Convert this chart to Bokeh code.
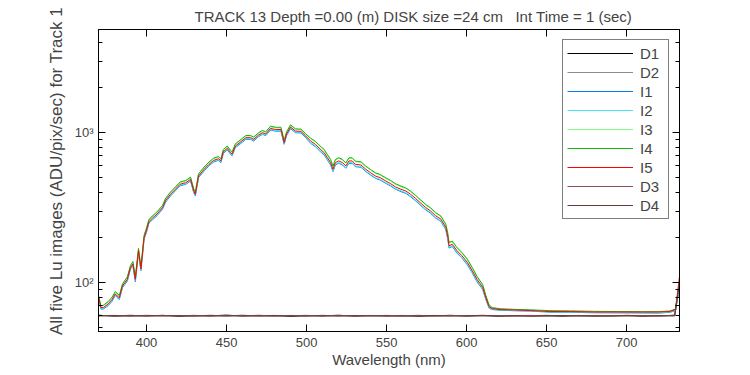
from bokeh.plotting import figure
from bokeh.models import FixedTicker, LinearAxis, LogAxis, Range1d
from bokeh.embed import file_html
from bokeh.resources import INLINE

# ---------------- data ----------------
wavelength = [370, 371.5, 373, 376, 378.5, 380.5, 383, 385, 388, 390,
              391.5, 393, 395, 396.5, 398.5, 400, 401.5, 404, 406.5, 410,
              412, 415, 418, 421, 424.5, 427.5, 429.5, 430.5, 432.5, 436,
              439, 442, 445, 446.5, 448, 450.5, 452.5, 453.5, 455.5, 459,
              462, 465, 467, 470, 472.5, 474.5, 477.5, 480.5, 484, 486,
              487.5, 490, 493, 496.5, 499.5, 502.5, 505.5, 509, 511, 513,
              515, 516.5, 518, 520, 522.5, 524.5, 526.5, 528.5, 530.5, 534,
              537, 540, 543, 546, 549.5, 552.5, 555.5, 559, 562, 565,
              568, 571, 574.5, 577.5, 580.5, 584, 587, 588.3, 589, 591,
              594, 597, 600.5, 603.5, 606.5, 610, 612, 614, 616, 621,
              630, 640, 652, 665, 680, 695, 710, 720, 727, 730.5,
              733]

I5 = [80, 68, 68, 72, 77, 84, 79, 95, 105, 126,
      133, 105, 163, 123, 200, 223, 255, 271, 286, 316,
      354, 388, 419, 453, 464, 488, 408, 388, 514, 570,
      615, 654, 671, 648, 747, 787, 736, 720, 815, 871,
      926, 926, 903, 966, 1000, 980, 1069, 1050, 1050, 858,
      980, 1091, 1026, 1020, 950, 880, 836, 768, 736, 681,
      631, 570, 631, 648, 631, 600, 648, 648, 615, 609,
      570, 541, 514, 501, 476, 457, 435, 419, 408, 388,
      365, 341, 316, 300, 280, 264, 233, 200, 176, 180,
      163, 151, 136, 120, 105, 93, 79, 69, 67, 66,
      65.5, 65, 64, 64, 63.5, 63.5, 63.5, 63.5, 64, 66,
      110]

I4 = [82, 70, 70.5, 74.5, 80, 87, 82, 98, 109, 130,
      138, 109, 169, 127, 207, 231, 264, 280, 296, 327,
      366, 402, 434, 469, 480, 505, 422, 402, 532, 590,
      637, 677, 694, 671, 773, 815, 762, 745, 844, 901,
      958, 958, 935, 1000, 1035, 1014, 1106, 1087, 1087, 888,
      1014, 1129, 1062, 1056, 983, 920, 876, 806, 773, 715,
      663, 599, 663, 680, 663, 630, 680, 680, 646, 639,
      599, 568, 540, 526, 500, 480, 457, 440, 428, 407,
      383, 358, 332, 315, 294, 277, 245, 212, 185, 189,
      171, 159, 143, 126, 110, 97, 82, 71, 68, 66.8,
      66.2, 65.7, 64.9, 64.6, 64.2, 64, 63.8, 63.9, 64.6, 66.5,
      100]

I3 = [81, 69.5, 70, 74, 79, 86, 81, 97, 108, 129,
      136, 108, 167, 126, 205, 229, 261, 278, 293, 324,
      363, 398, 429, 464, 476, 500, 418, 398, 527, 584,
      630, 670, 688, 664, 766, 807, 754, 738, 835, 893,
      949, 949, 926, 990, 1025, 1005, 1096, 1076, 1076, 879,
      1005, 1118, 1052, 1046, 974, 913, 868, 798, 765, 708,
      656, 593, 656, 674, 656, 624, 674, 674, 640, 633,
      593, 563, 535, 521, 495, 475, 452, 436, 424, 404,
      380, 355, 329, 312, 291, 275, 242, 208, 183, 187,
      170, 157, 141, 125, 109, 96, 81, 70.5, 67.5, 66.5,
      65.9, 65.3, 64.4, 64.3, 63.9, 63.8, 63.6, 63.5, 64.2, 66,
      98]

I2 = [79, 67, 67, 71, 76, 83, 78, 94, 103, 124,
      131, 103, 161, 121, 197, 220, 251, 267, 282, 311,
      349, 382, 413, 446, 457, 481, 402, 382, 506, 561,
      606, 644, 661, 638, 736, 775, 725, 709, 803, 858,
      912, 912, 889, 952, 985, 965, 1053, 1034, 1034, 845,
      965, 1075, 1011, 1005, 936, 860, 816, 749, 718, 664,
      615, 556, 615, 632, 615, 585, 632, 632, 600, 594,
      556, 527, 501, 488, 464, 446, 424, 409, 398, 378,
      356, 332, 308, 293, 273, 257, 227, 195, 172, 176,
      159, 147, 133, 117, 102.5, 91, 77.5, 68, 66.5, 65.6,
      65.1, 64.6, 63.8, 63.6, 63.1, 63, 62.9, 62.8, 63.5, 65.2,
      96]

I1 = [78, 66.5, 66.5, 70, 75, 82, 77, 92.5, 102, 123,
      130, 101, 159, 120, 195, 217, 249, 264, 279, 308,
      345, 378, 409, 442, 452, 476, 398, 378, 501, 556,
      600, 638, 654, 632, 728, 767, 718, 702, 795, 849,
      903, 903, 880, 942, 975, 956, 1042, 1024, 1024, 837,
      956, 1064, 1000, 995, 926, 850, 806, 741, 710, 657,
      609, 550, 609, 625, 609, 579, 625, 625, 593, 588,
      550, 522, 496, 483, 459, 441, 420, 404, 394, 374,
      352, 329, 305, 290, 270, 255, 225, 193, 170, 174,
      157, 146, 131, 116, 101, 90, 77, 67.5, 66, 65.3,
      64.8, 64.4, 63.4, 63.3, 62.8, 62.7, 62.6, 62.5, 63.2, 65,
      95]

dark_wavelength = [370, 380, 390, 400, 410, 420, 430, 440, 450, 460,
                   470, 480, 490, 500, 510, 520, 530, 540, 550, 560,
                   570, 580, 590, 600, 610, 620, 630, 640, 650, 660,
                   670, 680, 690, 700, 710, 720, 730, 733]

D1 = [60.5, 59.6, 60.2, 59.8, 60.4, 59.5, 60.1, 59.9, 60.6, 59.7,
      60.0, 60.3, 59.4, 60.2, 59.8, 60.5, 59.6, 60.1, 59.9, 60.3,
      59.5, 60.0, 60.4, 59.7, 60.1, 59.6, 60.2, 59.8, 60.0, 59.5,
      60.3, 59.7, 59.9, 60.2, 59.6, 60.0, 60.4, 96]
D2 = [60.0, 60.4, 59.5, 60.1, 59.7, 60.3, 59.8, 60.5, 59.6, 60.2,
      59.9, 59.5, 60.4, 59.7, 60.2, 59.8, 60.3, 59.6, 60.4, 59.7,
      60.1, 59.5, 59.9, 60.3, 59.6, 60.2, 59.8, 60.4, 59.5, 60.1,
      59.7, 60.3, 59.6, 59.9, 60.2, 59.5, 59.9, 94]
D3 = [60.3, 59.8, 60.5, 59.6, 60.2, 59.9, 60.4, 59.5, 60.1, 59.8,
      60.5, 59.7, 60.0, 60.4, 59.6, 60.1, 59.8, 60.3, 59.5, 60.0,
      60.4, 59.7, 60.2, 59.8, 60.3, 59.9, 59.6, 60.1, 60.4, 59.8,
      60.0, 59.5, 60.2, 59.8, 60.1, 59.7, 60.5, 102]
D4 = [59.8, 60.2, 59.7, 60.4, 59.9, 60.1, 59.6, 60.3, 59.8, 60.5,
      59.7, 60.1, 59.9, 59.6, 60.4, 59.7, 60.2, 59.9, 60.1, 59.6,
      59.8, 60.3, 59.7, 60.0, 60.4, 59.8, 60.1, 59.6, 59.9, 60.3,
      59.8, 60.1, 59.7, 60.4, 59.8, 60.2, 59.9, 100]

x_ticks = [400, 450, 500, 550, 600, 650, 700]
y_major_ticks = [100, 1000]
y_minor_ticks = [50, 60, 70, 80, 90, 200, 300, 400, 500, 600, 700, 800, 900,
                 2000, 3000, 4000]
y_tick_labels = {100: "10\u00b2", 1000: "10\u00b3"}

series = [
    ("D1", dark_wavelength, D1, "#000000"),
    ("D2", dark_wavelength, D2, "#8c8c8c"),
    ("I1", wavelength, I1, "#0a7ff0"),
    ("I2", wavelength, I2, "#40e6f5"),
    ("I3", wavelength, I3, "#80ff80"),
    ("I4", wavelength, I4, "#14b414"),
    ("I5", wavelength, I5, "#ff0000"),
    ("D3", dark_wavelength, D3, "#8c5050"),
    ("D4", dark_wavelength, D4, "#6e3c3c"),
]

FONT = "Liberation Sans"

p = figure(width=750, height=375, output_backend="svg", toolbar_location=None,
           x_range=Range1d(370, 733), y_range=Range1d(47.1, 4885),
           y_axis_type="log",
           min_border_left=98, min_border_right=71,
           min_border_top=28, min_border_bottom=44,
           title="TRACK 13 Depth =0.00 (m) DISK size =24 cm\u00a0\u00a0 Int Time = 1 (sec)")

p.background_fill_color = "white"
p.border_fill_color = "white"
p.outline_line_color = "black"
p.outline_line_width = 1
p.grid.visible = False

p.title.text_font = FONT
p.title.text_font_size = "15px"
p.title.text_font_style = "normal"
p.title.align = "left"
p.title.offset = 96
p.title.standoff = 10

for name, xs, ys, col in series:
    p.line(xs, ys, line_color=col, line_width=1, legend_label=name)

# bottom x axis
xa = p.xaxis[0]
xa.ticker = FixedTicker(ticks=x_ticks, minor_ticks=[])
xa.axis_label = "Wavelength (nm)"
xa.axis_label_text_font = FONT
xa.axis_label_text_font_size = "15px"
xa.axis_label_text_font_style = "normal"
xa.axis_label_standoff = 1
xa.major_label_text_font = FONT
xa.major_label_text_font_size = "13px"
xa.major_label_standoff = 6
xa.major_tick_in = 7
xa.major_tick_out = 0
xa.minor_tick_in = 0
xa.minor_tick_out = 0
xa.axis_line_color = "black"

# left y axis
ya = p.yaxis[0]
ya.ticker = FixedTicker(ticks=y_major_ticks, minor_ticks=y_minor_ticks)
ya.major_label_overrides = y_tick_labels
ya.axis_label = "\u00a0\u00a0\u00a0\u00a0All five Lu images (ADU/pix/sec) for Track 1"
ya.axis_label_text_font = FONT
ya.axis_label_text_font_size = "17px"
ya.axis_label_text_font_style = "normal"
ya.axis_label_standoff = 6
ya.major_label_text_font = FONT
ya.major_label_text_font_size = "13px"
ya.major_label_standoff = 5
ya.major_tick_in = 7
ya.major_tick_out = 0
ya.minor_tick_in = 4
ya.minor_tick_out = 0

# top and right tick-only axes (box style)
top = LinearAxis(ticker=FixedTicker(ticks=x_ticks, minor_ticks=[]),
                 major_label_text_color=None, major_label_standoff=0,
                 major_tick_in=7, major_tick_out=0,
                 minor_tick_in=0, minor_tick_out=0)
p.add_layout(top, "above")
right = LogAxis(ticker=FixedTicker(ticks=y_major_ticks, minor_ticks=y_minor_ticks),
                major_label_text_color=None, major_label_standoff=0,
                major_tick_in=7, major_tick_out=0,
                minor_tick_in=4, minor_tick_out=0)
p.add_layout(right, "right")

leg = p.legend[0]
leg.location = "top_right"
leg.margin = 10
leg.padding = 4
leg.spacing = 1
leg.label_height = 18
leg.glyph_height = 18
leg.glyph_width = 66
leg.label_width = 24
leg.label_standoff = 7
leg.label_text_font = FONT
leg.label_text_font_size = "15px"
leg.border_line_color = "black"
leg.border_line_width = 1
leg.background_fill_color = "white"
leg.background_fill_alpha = 1.0

open("out.html", "w").write(file_html(p, INLINE))
